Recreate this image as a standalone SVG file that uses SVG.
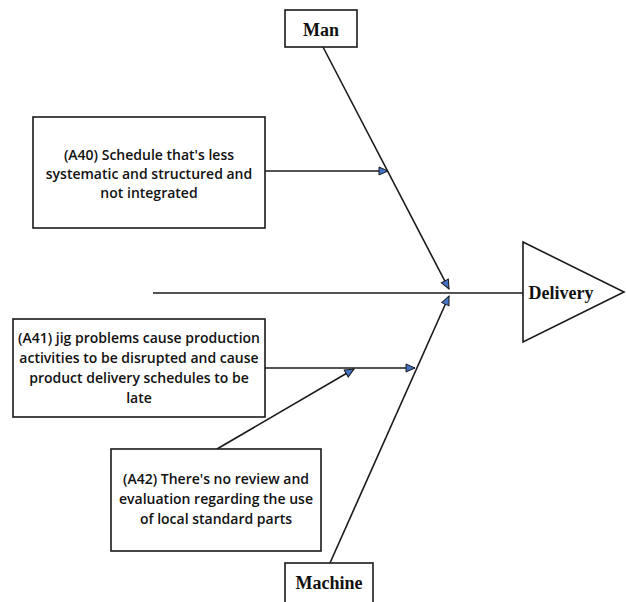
<svg xmlns="http://www.w3.org/2000/svg" width="626" height="602" viewBox="0 0 626 602">
<defs>
<marker id="arr" markerUnits="userSpaceOnUse" markerWidth="12" markerHeight="10" viewBox="0 0 12 10" refX="10" refY="5" orient="auto">
<path d="M1,1 L10,5 L1,9 Z" fill="#4472C4" stroke="#1a1a1a" stroke-width="1"/>
</marker>
<style>
.box{fill:#fff;stroke:#1a1a1a;stroke-width:1.6}
.ln{fill:none;stroke:#1a1a1a;stroke-width:1.6}
.cat{font-family:"Liberation Serif",serif;font-weight:bold;font-size:18px;fill:#111;text-anchor:middle}
.cause{font-family:"Open Sans","Liberation Sans",sans-serif;font-weight:600;font-size:14px;fill:#111;text-anchor:middle}
</style>
</defs>
<rect width="626" height="602" fill="#fff"/>
<g id="connectors">
<line class="ln" x1="153" y1="293" x2="523" y2="293"/>
<line class="ln" x1="323" y1="47" x2="449" y2="289" marker-end="url(#arr)"/>
<line class="ln" x1="330" y1="563" x2="449" y2="296" marker-end="url(#arr)"/>
<line class="ln" x1="265" y1="171" x2="388" y2="171" marker-end="url(#arr)"/>
<line class="ln" x1="265" y1="368" x2="415" y2="368" marker-end="url(#arr)"/>
<line class="ln" x1="217" y1="449" x2="354" y2="369" marker-end="url(#arr)"/>
</g>
<g id="delivery">
<path class="box" d="M523,242 L624,292 L523,342 Z"/>
<text class="cat" x="561" y="299">Delivery</text>
</g>
<g id="man">
<rect class="box" x="285" y="10" width="72" height="37"/>
<text class="cat" x="321" y="36">Man</text>
</g>
<g id="machine">
<rect class="box" x="285" y="563" width="88" height="45"/>
<text class="cat" x="329" y="589">Machine</text>
</g>
<g id="a40">
<rect class="box" x="33" y="117" width="232" height="111"/>
<text class="cause" x="149" y="160">(A40) Schedule that's less</text>
<text class="cause" x="149" y="179">systematic and structured and</text>
<text class="cause" x="149" y="198">not integrated</text>
</g>
<g id="a41">
<rect class="box" x="13" y="319" width="252" height="98"/>
<text class="cause" x="139" y="343">(A41) jig problems cause production</text>
<text class="cause" x="139" y="363">activities to be disrupted and cause</text>
<text class="cause" x="139" y="383">product delivery schedules to be</text>
<text class="cause" x="139" y="403">late</text>
</g>
<g id="a42">
<rect class="box" x="111" y="449" width="210" height="102"/>
<text class="cause" x="216" y="484">(A42) There's no review and</text>
<text class="cause" x="216" y="504">evaluation regarding the use</text>
<text class="cause" x="216" y="524">of local standard parts</text>
</g>
</svg>
